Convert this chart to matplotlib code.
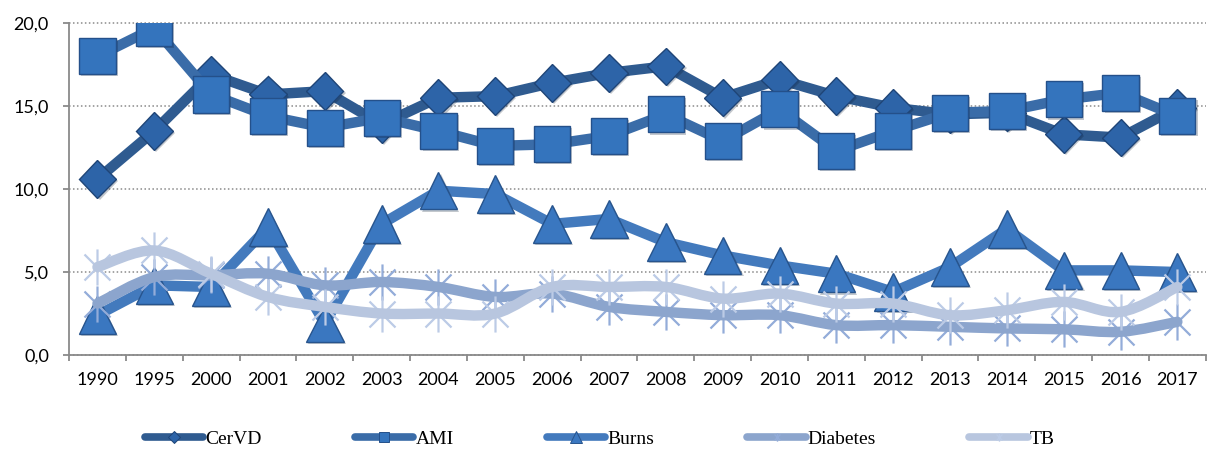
import numpy as np
import matplotlib
matplotlib.use("Agg")
import matplotlib.pyplot as plt
from matplotlib.path import Path
from matplotlib.patches import PathPatch
from matplotlib.lines import Line2D
import matplotlib.patheffects as pe

# ---- data -------------------------------------------------------------
years = ["1990", "1995", "2000", "2001", "2002", "2003", "2004", "2005", "2006", "2007",
         "2008", "2009", "2010", "2011", "2012", "2013", "2014", "2015", "2016", "2017"]

cervd = [10.6, 13.5, 16.9, 15.7, 15.9, 13.9, 15.5, 15.6, 16.4, 17.0,
         17.4, 15.5, 16.6, 15.6, 14.9, 14.5, 14.6, 13.3, 13.1, 14.9]
ami = [18.0, 19.7, 15.7, 14.4, 13.7, 14.3, 13.5, 12.6, 12.7, 13.2,
       14.5, 12.9, 14.8, 12.3, 13.5, 14.6, 14.7, 15.4, 15.8, 14.4]
burns = [2.4, 4.2, 4.1, 7.7, 1.9, 7.9, 9.9, 9.7, 7.9, 8.2,
         6.8, 6.0, 5.4, 4.9, 3.8, 5.3, 7.6, 5.1, 5.1, 5.0]
diabetes = [3.1, 4.7, 4.8, 4.9, 4.2, 4.4, 4.1, 3.5, 3.7, 2.9,
            2.6, 2.4, 2.4, 1.8, 1.8, 1.7, 1.6, 1.55, 1.4, 2.0]
tb = [5.3, 6.3, 4.9, 3.5, 2.9, 2.5, 2.5, 2.5, 4.1, 4.1,
      4.1, 3.4, 3.7, 3.1, 3.1, 2.4, 2.7, 3.2, 2.6, 4.1]

yticks = [0, 5, 10, 15, 20]

# ---- style ------------------------------------------------------------
plt.rcParams["font.family"] = ["Lato", "DejaVu Sans"]

GRID = "#8a8a8a"
x = np.arange(len(years))

# asterisk marker: an X plus a vertical bar
STAR = Path([(0, -1), (0, 1), (-0.72, -0.72), (0.72, 0.72), (-0.72, 0.72), (0.72, -0.72)],
            [Path.MOVETO, Path.LINETO, Path.MOVETO, Path.LINETO, Path.MOVETO, Path.LINETO])


def smooth_path(xs, ys):
    """Cubic Bezier path through the points (Catmull-Rom style)."""
    pts = np.column_stack([xs, ys]).astype(float)
    n = len(pts)
    verts = [pts[0]]
    codes = [Path.MOVETO]
    for i in range(n - 1):
        p0 = pts[i - 1] if i > 0 else pts[i]
        p1 = pts[i]
        p2 = pts[i + 1]
        p3 = pts[i + 2] if i + 2 < n else pts[i + 1]
        c1 = p1 + (p2 - p0) / 6.0
        c2 = p2 - (p3 - p1) / 6.0
        verts += [c1, c2, p2]
        codes += [Path.CURVE4] * 3
    return Path(verts, codes)


fig = plt.figure(figsize=(12.07, 4.53), dpi=100)
ax = fig.add_axes([0.0572, 0.2163, 0.9418, 0.7327])

shadow = [pe.SimplePatchShadow(offset=(1.5, -1.5), alpha=0.25), pe.Normal()]

series = [
    # name, values, line colour, marker, face, edge, marker size, legend marker size, smooth
    ("CerVD", cervd, "#2f5b90", "D", "#2d64a8", "#1f4577", 19, 6, False),
    ("AMI", ami, "#3a6ca8", "s", "#3474bd", "#24508a", 26, 7.5, False),
    ("Burns", burns, "#437abd", "^", "#3a77c0", "#27548d", 27, 8, False),
    ("Diabetes", diabetes, "#8ca5cd", STAR, "none", "#93acd9", 26, 6, True),
    ("TB", tb, "#b8c6df", STAR, "none", "#bccbe6", 26, 6, True),
]

LW = 7.5
legend_handles = []
for k, (name, vals, lc, mk, fc, ec, ms, lms, smooth) in enumerate(series):
    z = 3 + 2 * k
    if smooth:
        patch = PathPatch(smooth_path(x, vals), fill=False, edgecolor=lc, lw=LW,
                          capstyle="round", joinstyle="round", zorder=z + 1)
        ax.add_patch(patch)
        ax.plot(x, vals, linestyle="none", marker=mk, ms=ms, mfc="none",
                mec=ec, mew=1.6, zorder=z)
        hnd = Line2D([], [], color=lc, lw=5.5, solid_capstyle="round",
                     marker=mk, ms=lms, mec=ec, mew=1.0, mfc="none")
    else:
        ax.plot(x, vals, color=lc, lw=LW, solid_joinstyle="miter",
                solid_capstyle="butt", zorder=z)
        ax.plot(x, vals, linestyle="none", marker=mk, ms=ms, mfc=fc, mec=ec,
                mew=1.0, zorder=z + 1, path_effects=shadow)
        hnd = Line2D([], [], color=lc, lw=5.5, solid_capstyle="round",
                     marker=mk, ms=lms, mfc=fc, mec=ec, mew=0.7)
    legend_handles.append((hnd, name))

# ---- axes -------------------------------------------------------------
ax.set_xlim(-0.5, len(years) - 0.5)
ax.set_ylim(0, 20)
ax.set_yticks(yticks)
ax.set_yticklabels([f"{v:.1f}".replace(".", ",") for v in yticks])
ax.set_xticks(x)
ax.set_xticklabels(years)
ax.set_xticks(np.arange(-0.5, len(years), 1.0), minor=True)

for s in ("top", "right"):
    ax.spines[s].set_visible(False)
for s in ("left", "bottom"):
    ax.spines[s].set_color(GRID)
    ax.spines[s].set_linewidth(1.3)

ax.tick_params(axis="y", which="major", length=4.5, width=1.3, color=GRID,
               labelsize=13, pad=10, labelcolor="black")
ax.tick_params(axis="x", which="major", length=0, labelsize=13, pad=12,
               labelcolor="black")
ax.tick_params(axis="x", which="minor", length=4.5, width=1.3, color=GRID,
               direction="out")

ax.yaxis.grid(True, linestyle=(0, (1, 1.6)), color=GRID, linewidth=1.1)
ax.set_axisbelow(True)
for gl in ax.get_ygridlines():
    gl.set_clip_on(False)

# ---- legend -----------------------------------------------------------
leg = fig.legend([h for h, _ in legend_handles], [n for _, n in legend_handles],
                 loc="center", bbox_to_anchor=(0.497, 0.03), ncol=5, frameon=False,
                 handlelength=3.0, handletextpad=0.1, columnspacing=4.8,
                 prop={"family": "Liberation Serif", "size": 14})

fig.savefig("out.png", dpi=100)
